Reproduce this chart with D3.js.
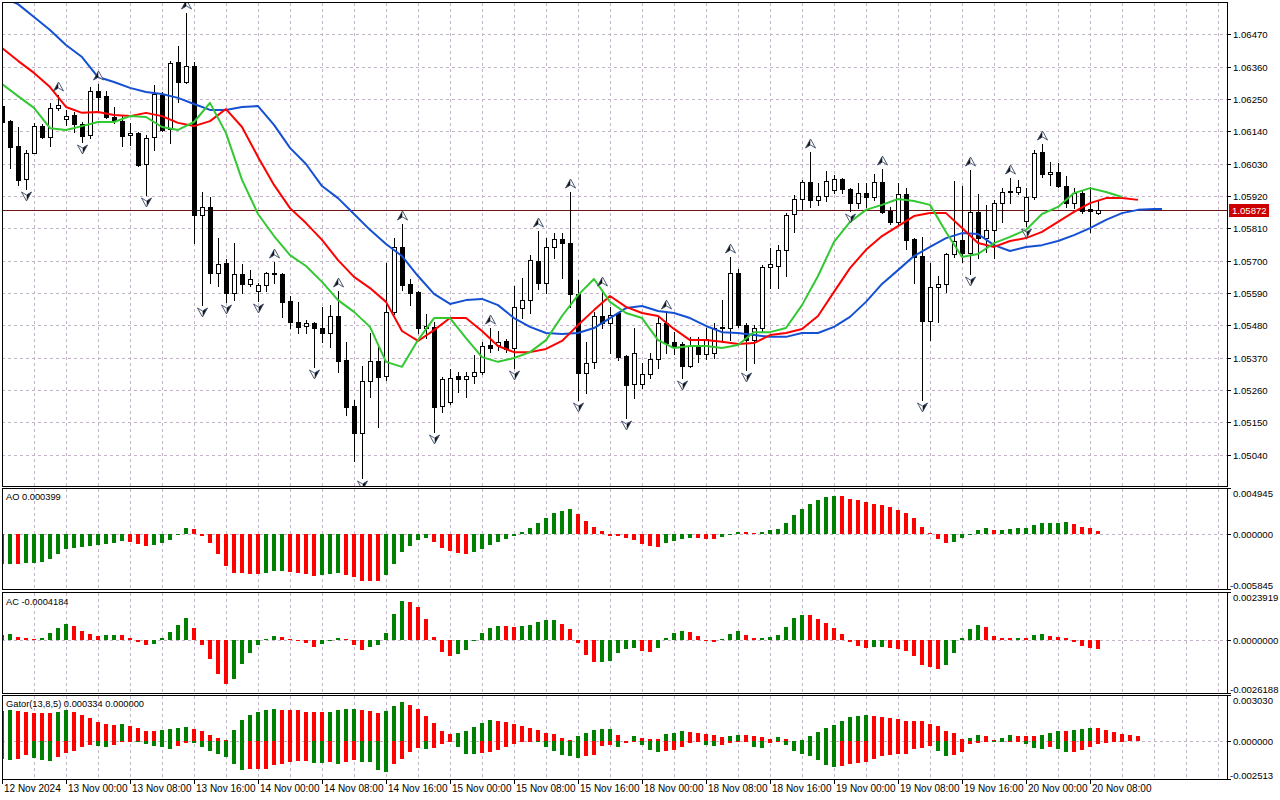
<!DOCTYPE html>
<html>
<head>
<meta charset="utf-8">
<script src="https://cdn.jsdelivr.net/npm/d3@7"></script>
<style>
  body { margin: 0; background: #fff; }
  text { font-family: "Liberation Sans", Arial, sans-serif; fill: #000; }
</style>
</head>
<body>
<svg id="chart" width="1280" height="800"></svg>
<script>

// EURUSD H1 candles, 12 Nov 16:00 .. 20 Nov 09:00
const open = [
  1.06226,1.06175,1.06090,1.05978,1.06066,1.06158,1.06121,1.06220,1.06182,1.06196,
  1.06165,1.06128,1.06277,1.06260,1.06189,1.06175,1.06128,1.06135,1.06029,1.06121,
  1.06264,1.06148,1.06376,1.06308,1.06363,1.05856,1.05883,1.05658,1.05692,1.05590,
  1.05655,1.05621,1.05597,1.05617,1.05658,1.05655,1.05563,1.05492,1.05478,1.05488,
  1.05471,1.05454,1.05512,1.05362,1.05206,1.05114,1.05291,1.05359,1.05308,1.05526,
  1.05747,1.05621,1.05594,1.05471,1.05475,1.05206,1.05219,1.05308,1.05298,1.05308,
  1.05321,1.05413,1.05413,1.05427,1.05403,1.05539,1.05566,1.05699,1.05624,1.05747,
  1.05774,1.05760,1.05587,1.05318,1.05356,1.05512,1.05488,1.05522,1.05376,1.05281,
  1.05281,1.05315,1.05366,1.05488,1.05424,1.05417,1.05342,1.05406,1.05383,1.05386,
  1.05471,1.05471,1.05658,1.05481,1.05430,1.05471,1.05679,1.05682,1.05737,1.05859,
  1.05910,1.05968,1.05907,1.05920,1.05941,1.05978,1.05944,1.05896,1.05930,1.05917,
  1.05968,1.05869,1.05832,1.05927,1.05774,1.05716,1.05495,1.05611,1.05621,1.05723,
  1.05771,1.05726,1.05866,1.05777,1.05805,1.05896,1.05934,1.05934,1.05835,1.05917,
  1.06070,1.05995,1.06002,1.05954,1.05896,1.05930,1.05876,1.05862
];
const high = [
  1.06233,1.06179,1.06155,1.06077,1.06169,1.06165,1.06237,1.06264,1.06213,1.06206,
  1.06172,1.06291,1.06301,1.06277,1.06223,1.06196,1.06169,1.06138,1.06128,1.06298,
  1.06274,1.06380,1.06431,1.06543,1.06376,1.05934,1.05917,1.05777,1.05706,1.05760,
  1.05689,1.05668,1.05624,1.05662,1.05696,1.05658,1.05580,1.05560,1.05498,1.05492,
  1.05543,1.05549,1.05597,1.05424,1.05226,1.05342,1.05454,1.05406,1.05692,1.05777,
  1.05825,1.05638,1.05597,1.05519,1.05492,1.05304,1.05332,1.05321,1.05321,1.05379,
  1.05424,1.05471,1.05461,1.05434,1.05614,1.05641,1.05719,1.05801,1.05777,1.05794,
  1.05794,1.05934,1.05634,1.05424,1.05526,1.05600,1.05543,1.05526,1.05379,1.05471,
  1.05352,1.05386,1.05509,1.05522,1.05457,1.05424,1.05441,1.05441,1.05471,1.05488,
  1.05566,1.05713,1.05672,1.05488,1.05481,1.05685,1.05743,1.05753,1.05862,1.05924,
  1.05975,1.06070,1.05964,1.06005,1.05992,1.05981,1.05947,1.05964,1.05964,1.05995,
  1.06012,1.05883,1.05964,1.05947,1.05777,1.05781,1.05692,1.05648,1.05726,1.05971,
  1.05954,1.06009,1.05927,1.05890,1.05907,1.05947,1.05981,1.05975,1.05947,1.06077,
  1.06097,1.06036,1.06033,1.05988,1.05947,1.05941,1.05951,1.05907
];
const low = [
  1.06165,1.06015,1.05958,1.05944,1.06066,1.06117,1.06090,1.06213,1.06162,1.06138,
  1.06104,1.06117,1.06213,1.06186,1.06169,1.06090,1.06094,1.06022,1.05924,1.06077,
  1.06141,1.06101,1.06240,1.06305,1.05760,1.05549,1.05624,1.05614,1.05560,1.05566,
  1.05590,1.05614,1.05563,1.05597,1.05624,1.05509,1.05471,1.05454,1.05454,1.05339,
  1.05424,1.05406,1.05321,1.05175,1.05019,1.04961,1.05236,1.05134,1.05294,1.05519,
  1.05600,1.05549,1.05454,1.05437,1.05117,1.05185,1.05213,1.05253,1.05236,1.05284,
  1.05315,1.05389,1.05396,1.05389,1.05335,1.05505,1.05522,1.05604,1.05590,1.05709,
  1.05641,1.05543,1.05226,1.05250,1.05335,1.05471,1.05386,1.05362,1.05165,1.05233,
  1.05267,1.05301,1.05335,1.05386,1.05383,1.05301,1.05339,1.05356,1.05366,1.05369,
  1.05424,1.05430,1.05475,1.05328,1.05352,1.05457,1.05607,1.05607,1.05648,1.05798,
  1.05873,1.05883,1.05890,1.05903,1.05930,1.05930,1.05869,1.05879,1.05883,1.05907,
  1.05862,1.05825,1.05825,1.05740,1.05624,1.05226,1.05430,1.05492,1.05594,1.05713,
  1.05696,1.05655,1.05709,1.05730,1.05709,1.05832,1.05896,1.05927,1.05818,1.05910,
  1.05985,1.05958,1.05951,1.05883,1.05879,1.05862,1.05798,1.05859
];
const close = [
  1.06172,1.06087,1.05975,1.06066,1.06158,1.06121,1.06220,1.06230,1.06192,1.06165,
  1.06124,1.06277,1.06257,1.06189,1.06175,1.06124,1.06135,1.06026,1.06117,1.06267,
  1.06145,1.06373,1.06308,1.06363,1.05856,1.05883,1.05658,1.05689,1.05590,1.05655,
  1.05621,1.05638,1.05617,1.05658,1.05655,1.05560,1.05492,1.05475,1.05488,1.05471,
  1.05454,1.05512,1.05359,1.05202,1.05114,1.05291,1.05359,1.05304,1.05526,1.05747,
  1.05617,1.05590,1.05471,1.05478,1.05202,1.05298,1.05301,1.05298,1.05308,1.05321,
  1.05410,1.05403,1.05424,1.05400,1.05543,1.05566,1.05702,1.05624,1.05747,1.05774,
  1.05760,1.05587,1.05318,1.05352,1.05512,1.05488,1.05515,1.05372,1.05277,1.05386,
  1.05315,1.05366,1.05488,1.05420,1.05410,1.05342,1.05410,1.05383,1.05434,1.05471,
  1.05475,1.05658,1.05481,1.05430,1.05471,1.05679,1.05689,1.05737,1.05856,1.05910,
  1.05968,1.05907,1.05920,1.05971,1.05978,1.05944,1.05896,1.05930,1.05917,1.05968,
  1.05866,1.05832,1.05927,1.05771,1.05713,1.05495,1.05611,1.05621,1.05723,1.05767,
  1.05726,1.05866,1.05777,1.05805,1.05896,1.05934,1.05937,1.05951,1.05917,1.06066,
  1.05995,1.06002,1.05954,1.05896,1.05930,1.05869,1.05869,1.05872
];

// Alligator lines read every second bar (jaw shifted 8, teeth 5, lips 3)
const jaw = [
  1.06597,1.06573,1.06529,1.06485,1.06434,1.06393,1.06325,1.06308,1.06288,1.06274,
  1.06267,1.06254,1.06233,1.06213,1.06213,1.06223,1.06226,1.06162,1.06084,1.06029,
  1.05954,1.05913,1.05859,1.05805,1.05757,1.05716,1.05648,1.05587,1.05553,1.05566,
  1.05570,1.05549,1.05505,1.05475,1.05454,1.05451,1.05454,1.05471,1.05505,1.05539,
  1.05546,1.05529,1.05522,1.05505,1.05478,1.05457,1.05454,1.05447,1.05441,1.05441,
  1.05454,1.05454,1.05475,1.05509,1.05560,1.05621,1.05668,1.05716,1.05747,1.05777,
  1.05794,1.05791,1.05753,1.05733,1.05747,1.05753,1.05767,1.05787,1.05811,1.05839,
  1.05862,1.05873,1.05876,1.05876
];
const teeth = [
  1.06424,1.06380,1.06339,1.06291,1.06223,1.06203,1.06206,1.06196,1.06192,1.06203,
  1.06192,1.06169,1.06158,1.06175,1.06216,1.06155,1.06053,1.05958,1.05879,1.05828,
  1.05771,1.05702,1.05645,1.05607,1.05560,1.05461,1.05427,1.05464,1.05505,1.05505,
  1.05461,1.05410,1.05389,1.05389,1.05400,1.05427,1.05481,1.05532,1.05580,1.05543,
  1.05522,1.05512,1.05468,1.05430,1.05430,1.05424,1.05417,1.05420,1.05447,1.05454,
  1.05468,1.05512,1.05594,1.05675,1.05737,1.05784,1.05818,1.05852,1.05862,1.05862,
  1.05811,1.05760,1.05747,1.05767,1.05777,1.05798,1.05832,1.05866,1.05896,1.05913,
  1.05913,1.05907
];
const lips = [
  1.06301,1.06260,1.06220,1.06151,1.06145,1.06158,1.06172,1.06172,1.06192,1.06189,
  1.06155,1.06145,1.06172,1.06237,1.06134,1.05975,1.05859,1.05784,1.05719,1.05682,
  1.05628,1.05566,1.05526,1.05475,1.05356,1.05339,1.05430,1.05505,1.05505,1.05437,
  1.05372,1.05356,1.05369,1.05389,1.05430,1.05512,1.05583,1.05638,1.05560,1.05522,
  1.05505,1.05430,1.05403,1.05410,1.05410,1.05403,1.05413,1.05457,1.05457,1.05471,
  1.05549,1.05648,1.05764,1.05832,1.05873,1.05890,1.05910,1.05903,1.05890,1.05798,
  1.05713,1.05723,1.05760,1.05781,1.05805,1.05859,1.05883,1.05930,1.05947,1.05934,
  1.05917
];
const jawBars = d3.range(0, 145, 2).concat([145]);
const teethBars = d3.range(0, 143, 2);
const lipsBars = d3.range(0, 141, 2);

// Bill Williams fractals (bar indices)
const upFractals = [7, 12, 23, 34, 42, 50, 61, 67, 71, 75, 83, 91, 101, 110, 121, 126, 130];
const downFractals = [3, 10, 18, 25, 28, 32, 39, 45, 54, 64, 72, 78, 85, 93, 106, 115, 121, 128];

// Awesome Oscillator
const ao = [
  -0.00320,-0.00313,-0.00314,-0.00312,-0.00303,-0.00292,-0.00260,-0.00206,-0.00160,-0.00142,
  -0.00135,-0.00125,-0.00114,-0.00100,-0.00089,-0.00068,-0.00078,-0.00100,-0.00125,-0.00110,
  -0.00093,-0.00057,-0.00004,0.00068,0.00061,-0.00014,-0.00089,-0.00206,-0.00338,-0.00410,
  -0.00413,-0.00420,-0.00424,-0.00410,-0.00392,-0.00388,-0.00399,-0.00410,-0.00427,-0.00445,
  -0.00438,-0.00420,-0.00410,-0.00431,-0.00456,-0.00498,-0.00500,-0.00502,-0.00434,-0.00313,
  -0.00185,-0.00125,-0.00057,-0.00036,-0.00078,-0.00146,-0.00174,-0.00199,-0.00210,-0.00185,
  -0.00153,-0.00114,-0.00078,-0.00046,-0.00014,0.00025,0.00068,0.00121,0.00174,0.00228,
  0.00249,0.00271,0.00217,0.00142,0.00078,0.00036,-0.00014,-0.00015,-0.00036,-0.00057,
  -0.00100,-0.00121,-0.00135,-0.00089,-0.00068,-0.00046,-0.00036,-0.00037,-0.00050,-0.00051,
  -0.00025,-0.00004,0.00025,0.00024,0.00014,0.00025,0.00046,0.00057,0.00121,0.00206,
  0.00271,0.00324,0.00367,0.00399,0.00409,0.00408,0.00377,0.00366,0.00345,0.00324,
  0.00313,0.00292,0.00260,0.00228,0.00174,0.00078,0.00014,-0.00046,-0.00089,-0.00087,
  -0.00036,-0.00003,0.00046,0.00068,0.00046,0.00047,0.00057,0.00068,0.00069,0.00100,
  0.00121,0.00122,0.00123,0.00132,0.00110,0.00078,0.00068,0.000399
];

// Accelerator Oscillator
const ac = [
  0.00025,0.00030,0.00015,0.00010,0.00005,0.00010,0.00035,0.00060,0.00079,0.00069,
  0.00045,0.00030,0.00020,0.00025,0.00026,0.00024,0.00010,-0.00008,-0.00026,-0.00020,
  0.00010,0.00040,0.00074,0.00109,0.00060,-0.00025,-0.00094,-0.00169,-0.00218,-0.00194,
  -0.00119,-0.00063,-0.00025,0.00005,0.00020,0.00015,0.00005,-0.00001,-0.00015,-0.00035,
  -0.00020,-0.00002,0.00010,0.00005,-0.00025,-0.00050,-0.00035,-0.00025,0.00035,0.00129,
  0.00194,0.00189,0.00164,0.00104,0.00015,-0.00060,-0.00079,-0.00069,-0.00050,0.00001,
  0.00035,0.00060,0.00069,0.000685,0.00064,0.00069,0.00074,0.00089,0.00099,0.000995,
  0.00079,0.00055,-0.00015,-0.00074,-0.00109,-0.00108,-0.00104,-0.00064,-0.00045,-0.00040,
  -0.00055,-0.00060,-0.00040,0.00010,0.00035,0.00045,0.00040,0.00020,0.00001,-0.00010,
  0.00005,0.00030,0.00045,0.00025,0.00010,0.00011,0.00015,0.00025,0.00064,0.00109,
  0.00124,0.00123,0.00104,0.00084,0.00060,0.00030,-0.00008,-0.00030,-0.00040,-0.00035,
  -0.00034,-0.00040,-0.00045,-0.00055,-0.00079,-0.00124,-0.00134,-0.00144,-0.00124,-0.00064,
  0.00010,0.00055,0.00074,0.00064,0.00020,0.00010,0.000099,0.00010,0.000098,0.00025,
  0.00030,0.00020,0.00015,0.00010,-0.00008,-0.00030,-0.00040,-0.0004184
];

// Gator oscillator (13,8,5), upper and lower histograms
const gatorUp = [
  0.00200,0.00207,0.00200,0.00194,0.00187,0.00186,0.00185,0.00194,0.00207,0.00194,
  0.00174,0.00154,0.00128,0.00114,0.00108,0.00114,0.00101,0.00088,0.00068,0.00067,
  0.00075,0.00081,0.00088,0.00095,0.00081,0.00068,0.00042,0.00022,0.00009,0.00075,
  0.00141,0.00174,0.00194,0.00207,0.00208,0.00207,0.00206,0.00205,0.00194,0.00193,
  0.00192,0.00193,0.00207,0.00208,0.00213,0.00207,0.00200,0.00187,0.00200,0.00233,
  0.00260,0.00240,0.00213,0.00167,0.00121,0.00068,0.00048,0.00055,0.00068,0.00095,
  0.00121,0.00141,0.00134,0.00128,0.00114,0.00101,0.00088,0.00075,0.00055,0.00048,
  0.00022,0.00009,0.00035,0.00055,0.00075,0.00076,0.00081,0.00042,0.00002,0.00035,
  0.00022,0.00015,0.00014,0.00048,0.00055,0.00068,0.00062,0.00055,0.00048,0.00042,
  0.00029,0.00035,0.00042,0.00041,0.00035,0.00029,0.00015,0.00029,0.00013,0.00001,
  0.00009,0.00035,0.00062,0.00088,0.00108,0.00134,0.00161,0.00167,0.00168,0.00167,
  0.00161,0.00154,0.00147,0.00134,0.00133,0.00132,0.00114,0.00101,0.00068,0.00053,
  0.00015,0.00022,0.00042,0.00035,0.00004,0.00022,0.00042,0.00035,0.00034,0.00033,
  0.00042,0.00055,0.00068,0.00067,0.00075,0.00081,0.00088,0.00087,0.00075,0.00062,
  0.00048,0.00042,0.000334
];
const gatorDown = [
  -0.00119,-0.00123,-0.00117,-0.00090,-0.00110,-0.00123,-0.00130,-0.00103,-0.00077,-0.00064,
  -0.00037,-0.00024,-0.00031,-0.00037,-0.00024,-0.00004,-0.00003,-0.00005,-0.00018,-0.00031,
  -0.00037,-0.00051,-0.00031,-0.00011,-0.00012,-0.00037,-0.00064,-0.00085,-0.00103,-0.00150,
  -0.00189,-0.00188,-0.00187,-0.00183,-0.00156,-0.00150,-0.00136,-0.00135,-0.00134,-0.00143,
  -0.00144,-0.00136,-0.00150,-0.00136,-0.00123,-0.00136,-0.00137,-0.00189,-0.00202,-0.00150,
  -0.00117,-0.00070,-0.00045,-0.00051,-0.00044,-0.00018,-0.00005,-0.00037,-0.00084,-0.00085,
  -0.00077,-0.00070,-0.00057,-0.00037,-0.00018,-0.00004,-0.00003,-0.00008,-0.00037,-0.00064,
  -0.00090,-0.00097,-0.00110,-0.00097,-0.00096,-0.00031,-0.00030,-0.00037,-0.00011,-0.00005,
  -0.00024,-0.00057,-0.00070,-0.00064,-0.00063,-0.00037,-0.00011,-0.00010,-0.00024,-0.00031,
  -0.00024,-0.00011,-0.00004,-0.00003,-0.00037,-0.00044,-0.00011,-0.00009,-0.00024,-0.00064,
  -0.00084,-0.00097,-0.00123,-0.00156,-0.00169,-0.00163,-0.00150,-0.00143,-0.00136,-0.00117,
  -0.00097,-0.00090,-0.00089,-0.00084,-0.00051,-0.00044,-0.00031,-0.00064,-0.00097,-0.00090,
  -0.00070,-0.00018,-0.00017,-0.00006,-0.00009,-0.00010,-0.00009,-0.00009,-0.00022,-0.00048,
  -0.00055,-0.00042,-0.00055,-0.00075,-0.00074,-0.00062,-0.00042,-0.00022,-0.00015,-0.00009,
  -0.00003,null,null
];

// Axis labels
const timeLabels = [
  "12 Nov 2024","13 Nov 00:00","13 Nov 08:00","13 Nov 16:00","14 Nov 00:00","14 Nov 08:00",
  "14 Nov 16:00","15 Nov 00:00","15 Nov 08:00","15 Nov 16:00","18 Nov 00:00","18 Nov 08:00",
  "18 Nov 16:00","19 Nov 00:00","19 Nov 08:00","19 Nov 16:00","20 Nov 00:00","20 Nov 08:00"
];
const timeLabelBars = d3.range(0, 137, 8);
const priceTicks = [1.05040,1.05150,1.05260,1.05370,1.05480,1.05590,1.05700,1.05810,1.05920,1.06030,1.06140,1.06250,1.06360,1.06470];
const lastPrice = 1.05872;
const aoRange = [-0.005845, 0.004945];
const acRange = [-0.0026188, 0.0023919];
const gatorRange = [-0.002513, 0.003030];


const svg = d3.select("#chart");
const left = 2, right = 1227;
const green = "#008000", red = "#ff0000";
const gridColor = "#c2b4c6";

const x = d3.scaleLinear().domain([0, 153]).range([2, 1226]);

const panels = [
  { id: "main", top: 2, bottom: 486 },
  { id: "ao", top: 488, bottom: 589 },
  { id: "ac", top: 592, bottom: 693 },
  { id: "gator", top: 695, bottom: 779 }
];

const yMain = d3.scaleLinear().domain([1.049336, 1.06587]).range([486, 0]);
const yAo = d3.scaleLinear().domain(aoRange).range([589, 488]);
const yAc = d3.scaleLinear().domain(acRange).range([693, 592]);
const yGator = d3.scaleLinear().domain(gatorRange).range([779, 695]);

const defs = svg.append("defs");
panels.forEach(p => {
  defs.append("clipPath").attr("id", "clip-" + p.id)
    .append("rect").attr("x", left + 1).attr("y", p.top + 1)
    .attr("width", right - left - 1).attr("height", p.bottom - p.top - 1);
});

// grid
const vGrid = d3.range(1, 39).map(k => 2 + 32 * k);
panels.forEach(p => {
  svg.append("g").selectAll("line").data(vGrid).enter().append("line")
    .attr("x1", d => d + 0.5).attr("x2", d => d + 0.5)
    .attr("y1", p.top + 1).attr("y2", p.bottom)
    .attr("stroke", gridColor).attr("stroke-dasharray", "3,3");
});
svg.append("g").selectAll("line").data(priceTicks).enter().append("line")
  .attr("x1", left).attr("x2", right)
  .attr("y1", d => Math.round(yMain(d)) + 0.5).attr("y2", d => Math.round(yMain(d)) + 0.5)
  .attr("stroke", gridColor).attr("stroke-dasharray", "3,3");
[yAo, yAc, yGator].forEach(s => {
  svg.append("line").attr("x1", left).attr("x2", right)
    .attr("y1", Math.round(s(0)) + 0.5).attr("y2", Math.round(s(0)) + 0.5)
    .attr("stroke", gridColor).attr("stroke-dasharray", "3,3");
});

// main panel
const main = svg.append("g").attr("clip-path", "url(#clip-main)");

main.append("line")
  .attr("x1", left).attr("x2", right)
  .attr("y1", Math.round(yMain(lastPrice)) + 0.5).attr("y2", Math.round(yMain(lastPrice)) + 0.5)
  .attr("stroke", "#6e1414").attr("stroke-width", 1);

const candles = open.map((o, i) => ({ i, o, h: high[i], l: low[i], c: close[i] }));
const cg = main.append("g");
candles.forEach(d => {
  const cx = Math.round(x(d.i));
  cg.append("line")
    .attr("x1", cx + 0.5).attr("x2", cx + 0.5)
    .attr("y1", Math.round(yMain(d.h))).attr("y2", Math.round(yMain(d.l)) + 1)
    .attr("stroke", "#000");
  const yt = Math.round(yMain(Math.max(d.o, d.c)));
  const yb = Math.round(yMain(Math.min(d.o, d.c)));
  if (yb - yt < 1) {
    cg.append("line").attr("x1", cx - 2).attr("x2", cx + 3)
      .attr("y1", yt + 0.5).attr("y2", yt + 0.5).attr("stroke", "#000");
  } else {
    cg.append("rect")
      .attr("x", cx - 1.5).attr("y", yt + 0.5)
      .attr("width", 4).attr("height", yb - yt)
      .attr("fill", d.c > d.o ? "#fff" : "#000").attr("stroke", "#000");
  }
});

// alligator
const line = d3.line().x(d => x(d[0])).y(d => yMain(d[1]));
[
  { bars: jawBars, vals: jaw, color: "#1450d2" },
  { bars: teethBars, vals: teeth, color: "#ff0000" },
  { bars: lipsBars, vals: lips, color: "#32c832" }
].forEach(s => {
  main.append("path")
    .datum(s.bars.map((b, k) => [b, s.vals[k]]))
    .attr("d", line).attr("fill", "none")
    .attr("stroke", s.color).attr("stroke-width", 2)
    .attr("stroke-linejoin", "round");
});

// fractals
const fg = main.append("g");
upFractals.forEach(i => {
  const cx = Math.round(x(i)) + 0.5, cy = Math.round(yMain(high[i])) - 8;
  const g = fg.append("g").attr("transform", `translate(${cx},${cy})`);
  g.append("path").attr("d", "M0,-5L-5,4L0,1Z").attr("fill", "#111");
  g.append("path").attr("d", "M0,-5L5,4L0,1Z").attr("fill", "#fff");
  g.append("path").attr("d", "M0,-5L5,4L0,1L-5,4Z").attr("fill", "none")
    .attr("stroke", "#3a4a66").attr("stroke-width", 0.9).attr("stroke-linejoin", "miter");
});
downFractals.forEach(i => {
  const cx = Math.round(x(i)) + 0.5, cy = Math.round(yMain(low[i])) + 7;
  const g = fg.append("g").attr("transform", `translate(${cx},${cy})`);
  g.append("path").attr("d", "M0,5L5,-4L0,-1Z").attr("fill", "#111");
  g.append("path").attr("d", "M0,5L-5,-4L0,-1Z").attr("fill", "#fff");
  g.append("path").attr("d", "M0,5L5,-4L0,-1L-5,-4Z").attr("fill", "none")
    .attr("stroke", "#3a4a66").attr("stroke-width", 0.9);
});

// histograms
function histogram(id, values, scale, byMagnitude) {
  const g = svg.append("g").attr("clip-path", "url(#clip-" + id + ")");
  const y0 = Math.round(scale(0));
  let prevColor = green;
  values.forEach((v, i) => {
    if (v === null) return;
    let color = prevColor;
    if (i > 0 && values[i - 1] !== null) {
      const a = byMagnitude ? Math.abs(v) : v;
      const b = byMagnitude ? Math.abs(values[i - 1]) : values[i - 1];
      color = a > b ? green : red;
    }
    prevColor = color;
    const y1 = Math.round(scale(v));
    const cx = Math.round(x(i));
    g.append("rect")
      .attr("x", cx - 2).attr("width", 4)
      .attr("y", Math.min(y0, y1)).attr("height", Math.max(1, Math.abs(y1 - y0)))
      .attr("fill", color);
  });
}
histogram("ao", ao, yAo, false);
histogram("ac", ac, yAc, false);
histogram("gator", gatorUp, yGator, true);
histogram("gator", gatorDown, yGator, true);

// frames
panels.forEach(p => {
  svg.append("rect")
    .attr("x", left + 0.5).attr("y", p.top + 0.5)
    .attr("width", right - left).attr("height", p.bottom - p.top)
    .attr("fill", "none").attr("stroke", "#000");
});

// price axis
const pa = svg.append("g");
priceTicks.forEach(t => {
  const y = Math.round(yMain(t)) + 0.5;
  pa.append("line").attr("x1", right).attr("x2", right + 4)
    .attr("y1", y).attr("y2", y).attr("stroke", "#000");
  pa.append("text").attr("x", right + 6).attr("y", y + 3.5)
    .attr("font-size", "9.6px").text(t.toFixed(5));
});
const ly = Math.round(yMain(lastPrice));
pa.append("rect").attr("x", right + 2).attr("y", ly - 6).attr("width", 40).attr("height", 13)
  .attr("fill", "#cc0000");
pa.append("text").attr("x", right + 5).attr("y", ly + 4)
  .attr("font-size", "9.6px").style("fill", "#fff").text(lastPrice.toFixed(5));

// indicator axes
function indicatorAxis(range, scale, digits) {
  const vals = [range[1], 0, range[0]];
  const g = svg.append("g");
  vals.forEach((v, k) => {
    const y = Math.round(scale(v)) + 0.5;
    g.append("line").attr("x1", right).attr("x2", right + 4)
      .attr("y1", y).attr("y2", y).attr("stroke", "#000");
    const ty = k === 0 ? y + 8 : (k === 1 ? y + 3.5 : y - 1);
    g.append("text").attr("x", v < 0 ? right + 3 : right + 6).attr("y", ty)
      .attr("font-size", "9.6px").text(v.toFixed(digits));
  });
}
indicatorAxis(aoRange, yAo, 6);
indicatorAxis(acRange, yAc, 7);
indicatorAxis(gatorRange, yGator, 6);

// indicator titles
svg.append("text").attr("x", 6).attr("y", 500).attr("font-size", "9.3px")
  .text("AO " + ao[ao.length - 1].toFixed(6));
svg.append("text").attr("x", 6).attr("y", 605).attr("font-size", "9.3px")
  .text("AC " + ac[ac.length - 1].toFixed(7));
svg.append("text").attr("x", 6).attr("y", 707).attr("font-size", "9.3px")
  .text("Gator(13,8,5) " + gatorUp[gatorUp.length - 1].toFixed(6) + " 0.000000");

// time axis
const ta = svg.append("g");
timeLabelBars.forEach((b, k) => {
  const tx = Math.round(x(b)) + 0.5;
  ta.append("line").attr("x1", tx).attr("x2", tx).attr("y1", 780).attr("y2", 784)
    .attr("stroke", "#000");
  ta.append("text").attr("x", tx + 1.5).attr("y", 792).attr("font-size", "10px")
    .text(timeLabels[k]);
});

</script>
</body>
</html>
